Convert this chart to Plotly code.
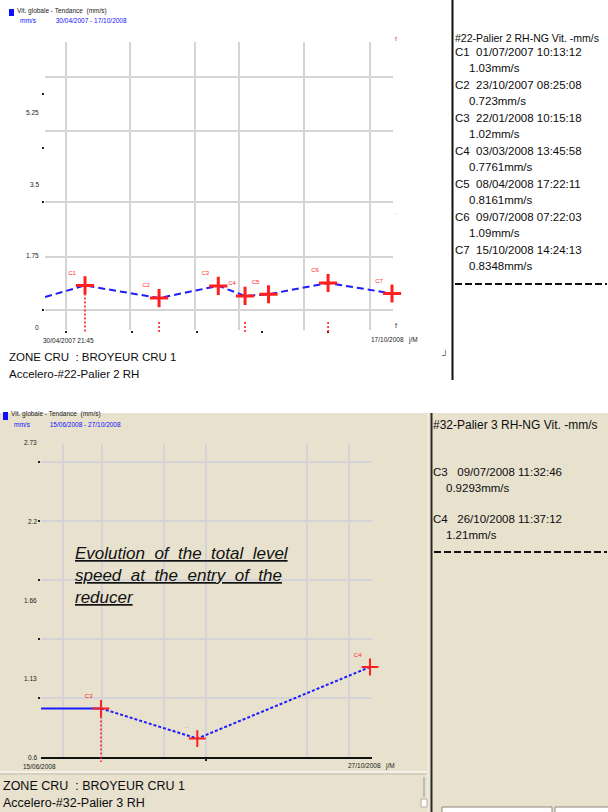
import plotly.graph_objects as go

W, H = 608, 812


def px(x):
    return x / W


def py(y):
    return 1 - y / H


# ---------------- upper trend : Accelero-#22-Palier 2 RH ----------------
top_labels = ["C1", "C2", "C3", "C4", "C5", "C6", "C7"]
top_stamps = ["01/07/2007 10:13:12", "23/10/2007 08:25:08", "22/01/2008 10:15:18",
              "03/03/2008 13:45:58", "08/04/2008 17:22:11", "09/07/2008 07:22:03",
              "15/10/2008 14:24:13"]
top_dates = ["2007-07-01 10:13:12", "2007-10-23 08:25:08", "2008-01-22 10:15:18",
             "2008-03-03 13:45:58", "2008-04-08 17:22:11", "2008-07-09 07:22:03",
             "2008-10-15 14:24:13"]
top_values = [1.03, 0.723, 1.02, 0.7761, 0.8161, 1.09, 0.8348]
top_value_text = ["1.03mm/s", "0.723mm/s", "1.02mm/s", "0.7761mm/s",
                  "0.8161mm/s", "1.09mm/s", "0.8348mm/s"]
top_lead_date = "2007-05-01 00:00:00"
top_lead_value = 0.75
top_cursor_idx = [0, 1, 3, 5]
top_cursor_full = [True, False, False, False]
top_cursor_stub = 0.14
top_cursor_floor = -0.13
top_grid_dates = ["2007-06-02", "2007-09-09", "2007-12-18",
                  "2008-02-24", "2008-06-03", "2008-09-12"]
top_grid_values = [0.43, 1.72, 3.07, 4.80, 6.11]
top_tick_dates = ["2007-06-02", "2007-09-11", "2007-12-20", "2008-03-29", "2008-07-09"]
top_tick_values = [5.70, 4.38, 3.07, 0.43]
top_axis_labels = ["0", "1.75", "3.5", "5.25"]
top_axis_label_values = [0.0, 1.75, 3.5, 5.25]

# ---------------- lower trend : Accelero-#32-Palier 3 RH ----------------
bot_labels = ["C3", "··", "C4"]
bot_stamps = ["09/07/2008 11:32:46", "26/10/2008 11:37:12"]
bot_dates = ["2008-07-09 11:32:46", "2008-08-17 12:00:00", "2008-10-26 11:37:12"]
bot_values = [0.9293, 0.725, 1.21]
bot_value_text = ["0.9293mm/s", "1.21mm/s"]
bot_lead_date = "2008-06-15 04:00:00"
bot_cursor_floor = 0.566
bot_grid_dates = ["2008-06-24", "2008-07-10", "2008-08-04",
                  "2008-08-21", "2008-10-01", "2008-10-18"]
bot_grid_values = [1.0, 1.4, 1.8, 2.2, 2.6]
bot_tick_dates = ["2008-08-21"]
bot_axis_labels = ["0.6", "1.13", "1.66", "2.2", "2.73"]
bot_axis_label_values = [0.6, 1.13, 1.66, 2.2, 2.73]

BLUE = "#1c1cff"
RED = "#ff1f1f"
BEIGE = "#e7e1cd"
GRID_W = "#d4d4d4"
GRID_B = "#d5d3d8"
TXT = "#0d0d0d"

# axis windows (ranges tied to domains so the scales line up)
TOP_X = ["2007-04-30 21:45", "2008-10-17 03:20"]
TOP_Y = [-0.056, 6.968]
TOP_Y_CURSOR = [-0.227, 6.968]
BOT_X = ["2008-06-15 04:00", "2008-10-27 07:00"]
BOT_Y = [0.6, 2.722]
BOT_Y_CURSOR = [0.5593, 2.722]

fig = go.Figure()

# ---- upper chart
fig.add_trace(go.Scatter(
    x=[top_lead_date] + top_dates, y=[top_lead_value] + top_values,
    mode="lines", line=dict(color=BLUE, width=2, dash="7px,4px"),
    xaxis="x", yaxis="y", hoverinfo="skip", showlegend=False))

cx, cy = [], []
for i, full in zip(top_cursor_idx, top_cursor_full):
    cx += [top_dates[i], top_dates[i], None]
    cy += [top_values[i] if full else top_cursor_stub, top_cursor_floor, None]
fig.add_trace(go.Scatter(
    x=cx, y=cy, mode="lines", line=dict(color=RED, width=1.6, dash="2px,2px"),
    xaxis="x3", yaxis="y3", hoverinfo="skip", showlegend=False))

fig.add_trace(go.Scatter(
    x=top_dates, y=top_values, mode="markers+text", text=top_labels,
    textposition="top left", textfont=dict(size=6, color=RED, family="Liberation Sans"),
    marker=dict(symbol="cross-thin", size=13, line=dict(color=RED, width=3)),
    cliponaxis=False, xaxis="x", yaxis="y", showlegend=False))

# ---- lower chart
fig.add_trace(go.Scatter(
    x=[bot_lead_date, bot_dates[0]], y=[bot_values[0], bot_values[0]],
    mode="lines", line=dict(color=BLUE, width=2),
    xaxis="x2", yaxis="y2", hoverinfo="skip", showlegend=False))
fig.add_trace(go.Scatter(
    x=bot_dates, y=bot_values, mode="lines",
    line=dict(color=BLUE, width=2, dash="3px,2px"),
    xaxis="x2", yaxis="y2", hoverinfo="skip", showlegend=False))
fig.add_trace(go.Scatter(
    x=[bot_dates[0], bot_dates[0]], y=[bot_values[0], bot_cursor_floor],
    mode="lines", line=dict(color=RED, width=1.6, dash="2px,2px"),
    xaxis="x4", yaxis="y4", hoverinfo="skip", showlegend=False))
fig.add_trace(go.Scatter(
    x=bot_dates, y=bot_values, mode="markers+text", text=bot_labels,
    textposition="top left", textfont=dict(size=6, color=RED, family="Liberation Sans"),
    marker=dict(symbol="cross-thin", size=12, line=dict(color=RED, width=2)),
    cliponaxis=False, xaxis="x2", yaxis="y2", showlegend=False))

# empty traces so the tick-only overlay axes are instantiated
for xa, ya in [("x5", "y"), ("x", "y5"), ("x6", "y2")]:
    fig.add_trace(go.Scatter(x=[], y=[], xaxis=xa, yaxis=ya, showlegend=False))

hidden = dict(visible=False, showgrid=False, zeroline=False, fixedrange=True)

fig.update_layout(
    width=W, height=H, margin=dict(l=0, r=0, t=0, b=0),
    paper_bgcolor="white", plot_bgcolor="rgba(0,0,0,0)",
    showlegend=False, hovermode=False,
    font=dict(family="Liberation Sans", color=TXT),
    xaxis=dict(type="date", domain=[px(45), px(393)], range=TOP_X, anchor="y",
               tickvals=top_grid_dates, showticklabels=False, ticks="",
               showgrid=True, gridcolor=GRID_W, gridwidth=2,
               zeroline=False, showline=False, fixedrange=True),
    yaxis=dict(domain=[py(330), py(42)], range=TOP_Y, anchor="x",
               tickvals=top_grid_values, showticklabels=False, ticks="",
               showgrid=True, gridcolor=GRID_W, gridwidth=2,
               zeroline=False, showline=False, fixedrange=True),
    xaxis3=dict(type="date", domain=[px(45), px(393)], range=TOP_X, anchor="y3", **hidden),
    yaxis3=dict(domain=[py(337), py(42)], range=TOP_Y_CURSOR, anchor="x3", **hidden),
    xaxis5=dict(type="date", overlaying="x", range=TOP_X, anchor="y",
                tickvals=top_tick_dates, ticks="outside", ticklen=2, tickwidth=2,
                tickcolor="#222", showticklabels=False, showgrid=False,
                zeroline=False, showline=False, fixedrange=True),
    yaxis5=dict(overlaying="y", range=TOP_Y, anchor="x",
                tickvals=top_tick_values, ticks="outside", ticklen=2, tickwidth=2,
                tickcolor="#222", showticklabels=False, showgrid=False,
                zeroline=False, showline=False, fixedrange=True),
    xaxis2=dict(type="date", domain=[px(41), px(372)], range=BOT_X, anchor="y2",
                tickvals=bot_grid_dates, showticklabels=False, ticks="",
                showgrid=True, gridcolor=GRID_B, gridwidth=2,
                zeroline=False, showline=True, linecolor="#111", linewidth=2,
                fixedrange=True),
    yaxis2=dict(domain=[py(757), py(444)], range=BOT_Y, anchor="x2",
                tickvals=bot_grid_values, showticklabels=False,
                ticks="outside", ticklen=2, tickwidth=2, tickcolor="#222",
                showgrid=True, gridcolor=GRID_B, gridwidth=2,
                zeroline=False, showline=False, fixedrange=True),
    xaxis4=dict(type="date", domain=[px(41), px(372)], range=BOT_X, anchor="y4", **hidden),
    yaxis4=dict(domain=[py(763), py(444)], range=BOT_Y_CURSOR, anchor="x4", **hidden),
    xaxis6=dict(type="date", overlaying="x2", range=BOT_X, anchor="y2",
                tickvals=bot_tick_dates, ticks="outside", ticklen=3, tickwidth=2,
                tickcolor="#222", showticklabels=False, showgrid=False,
                zeroline=False, showline=False, fixedrange=True),
)

# ---- window furniture
shapes = [
    dict(type="rect", xref="paper", yref="paper", x0=0, x1=1, y0=0, y1=py(413),
         fillcolor=BEIGE, line=dict(width=0), layer="below"),
    dict(type="line", xref="paper", yref="paper", x0=px(452.5), x1=px(452.5),
         y0=py(0), y1=py(380), line=dict(color="#111", width=2)),
    dict(type="line", xref="paper", yref="paper", x0=px(428), x1=px(428),
         y0=py(413), y1=py(812), line=dict(color="#f6f3ea", width=1)),
    dict(type="line", xref="paper", yref="paper", x0=px(431.5), x1=px(431.5),
         y0=py(413), y1=py(812), line=dict(color="#2a2a2a", width=2)),
    dict(type="line", xref="paper", yref="paper", x0=0, x1=px(427),
         y0=py(772), y1=py(772), line=dict(color="#f8f6ee", width=1.5)),
    dict(type="line", xref="paper", yref="paper", x0=0, x1=px(427),
         y0=py(774), y1=py(774), line=dict(color="#c3bead", width=1)),
    dict(type="rect", xref="paper", yref="paper", x0=px(9), x1=px(14),
         y0=py(16), y1=py(9), fillcolor="#1010ff", line=dict(width=0)),
    dict(type="rect", xref="paper", yref="paper", x0=px(3), x1=px(8),
         y0=py(420), y1=py(412), fillcolor="#1010ff", line=dict(width=0)),
    dict(type="line", xref="paper", yref="paper", x0=px(455), x1=px(607),
         y0=py(284), y1=py(284), line=dict(color="#111", width=2, dash="7px,3px")),
    dict(type="line", xref="paper", yref="paper", x0=px(434), x1=px(607),
         y0=py(552), y1=py(552), line=dict(color="#111", width=2, dash="7px,3px")),
    dict(type="line", xref="paper", yref="paper", x0=px(424), x1=px(424),
         y0=py(777), y1=py(797), line=dict(color="#9c988a", width=1)),
    dict(type="rect", xref="paper", yref="paper", x0=px(421), x1=px(427),
         y0=py(807), y1=py(799), fillcolor="white", line=dict(color="#b0ac9c", width=1)),
    dict(type="rect", xref="paper", yref="paper", x0=px(442), x1=px(552),
         y0=py(813), y1=py(807), fillcolor="white", line=dict(color="#8a8678", width=1)),
    dict(type="rect", xref="paper", yref="paper", x0=px(555), x1=px(609),
         y0=py(813), y1=py(807), fillcolor="white", line=dict(color="#8a8678", width=1)),
]
fig.update_layout(shapes=shapes)


def note(x, y, text, size=11.5, color=TXT, anchor="left", family="Liberation Sans"):
    fig.add_annotation(x=px(x), y=py(y), xref="paper", yref="paper", text=text,
                       showarrow=False, xanchor=anchor, yanchor="middle",
                       borderpad=0, font=dict(size=size, color=color, family=family))


# ---- upper side panel
note(454, 38, "#22-Palier 2 RH-NG Vit. -mm/s", size=10.5)
for k, (lab, stamp, vt) in enumerate(zip(top_labels, top_stamps, top_value_text)):
    note(454, 52 + k * 33, f"{lab}  {stamp}")
    note(468, 68 + k * 33, vt)

# ---- lower side panel
note(432, 425, "#32-Palier 3 RH-NG Vit. -mm/s", size=12)
for k, (lab, stamp, vt) in enumerate(zip(["C3", "C4"], bot_stamps, bot_value_text)):
    note(432, 472 + k * 47, f"{lab}   {stamp}")
    note(445, 488 + k * 47, vt)

# ---- captions under each chart
note(8, 357, "ZONE CRU  : BROYEUR CRU 1", size=11.5)
note(8, 374, "Accelero-#22-Palier 2 RH", size=11.5)
note(2, 786, "ZONE CRU  : BROYEUR CRU 1", size=12.5)
note(2, 803, "Accelero-#32-Palier 3 RH", size=12.5)

# ---- chart headers (tiny)
note(16, 11, "Vit. globale - Tendance  (mm/s)", size=6.5, color="#222")
note(19, 21, "mm/s           30/04/2007 - 17/10/2008", size=6.5, color="#1010ff")
note(10, 414, "Vit. globale - Tendance  (mm/s)", size=6.5, color="#222")
note(13, 424, "mm/s           15/06/2008 - 27/10/2008", size=6.5, color="#1010ff")

# ---- axis scale labels
for lab, v in zip(top_axis_labels, top_axis_label_values):
    note(40, 327.7 - v * 41, lab, size=6.5, color="#222", anchor="right")
for lab, v in zip(bot_axis_labels, bot_axis_label_values):
    note(38, 757 - (v - 0.6) * 147.5, lab, size=6.5, color="#222", anchor="right")
note(42, 340, "30/04/2007 21:45", size=6.5, color="#222")
note(370, 340, "17/10/2008   j/M", size=6.5, color="#222")
note(22, 766, "15/06/2008", size=6.5, color="#222")
note(347, 766, "27/10/2008   j/M", size=6.5, color="#222")

# small cursor flags on the right edge
note(396, 38, "r", size=7, color=RED, anchor="center")
note(396, 211, ",", size=8, color="#e8e000", anchor="center")
note(396, 325, "f", size=7, color="#222", anchor="center")
note(445, 354, "┘", size=9, color="#444", anchor="center")

# ---- comment written on the lower chart
ev_lines = ["<i><u>Evolution  of  the  total  level</u></i>",
            "<i><u>speed  at  the  entry  of  the</u></i>",
            "<i><u>reducer</u></i>"]
for k, t in enumerate(ev_lines):
    note(74, 553 + k * 22, t, size=17, color="#111")

fig.write_html("out.html")
